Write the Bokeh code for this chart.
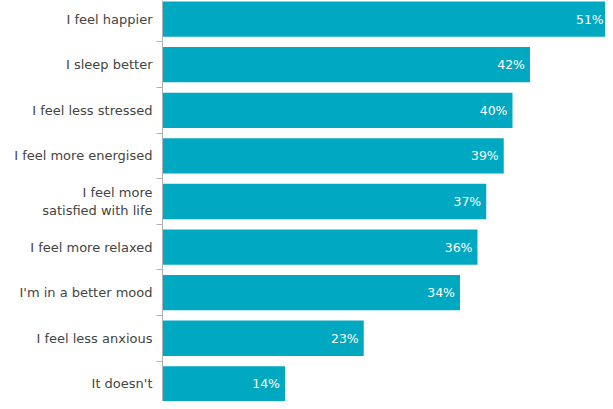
from bokeh.plotting import figure
from bokeh.models import Range1d, FixedTicker, ColumnDataSource
from bokeh.core.properties import value
from bokeh.embed import file_html
from bokeh.resources import INLINE

categories = ["I feel happier", "I sleep better", "I feel less stressed",
              "I feel more energised", "I feel more\nsatisfied with life",
              "I feel more relaxed", "I'm in a better mood",
              "I feel less anxious", "It doesn't"]
values = [51, 42, 40, 39, 37, 36, 34, 23, 14]
value_labels = [f"{v}%" for v in values]

idx = list(range(len(categories)))
src = ColumnDataSource(dict(y=idx, v=values, lab=value_labels))

BAR = "#00A9C1"

p = figure(width=605, height=401, output_backend="svg", toolbar_location=None,
           x_range=Range1d(0, 50.63), y_range=Range1d(8.387, -0.4087),
           x_axis_location=None, min_border_left=162, min_border_right=0,
           min_border_top=0, min_border_bottom=0)
p.outline_line_color = None
p.grid.visible = False
p.background_fill_color = "white"

p.hbar(y="y", right="v", left=0, height=0.774, source=src,
       fill_color=BAR, line_color=None)

p.text(x="v", y="y", text="lab", source=src, x_offset=-5,
       text_align="right", text_baseline="middle", text_color="white",
       text_font=value("DejaVu Sans"), text_font_size="12.5px")

ax = p.yaxis[0]
ax.ticker = FixedTicker(ticks=idx, minor_ticks=[i + 0.5 for i in idx[:-1]])
ax.major_label_overrides = {i: c for i, c in zip(idx, categories)}
ax.major_tick_line_color = None
ax.major_tick_out = 0
ax.major_tick_in = 0
ax.minor_tick_out = 6
ax.minor_tick_in = 0
ax.minor_tick_line_color = "#b0b0b0"
ax.axis_line_color = "#b0b0b0"
ax.major_label_standoff = 4
ax.major_label_text_font = "DejaVu Sans"
ax.major_label_text_font_size = "13px"
ax.major_label_text_color = "#444444"

open("out.html", "w").write(file_html(p, INLINE))
